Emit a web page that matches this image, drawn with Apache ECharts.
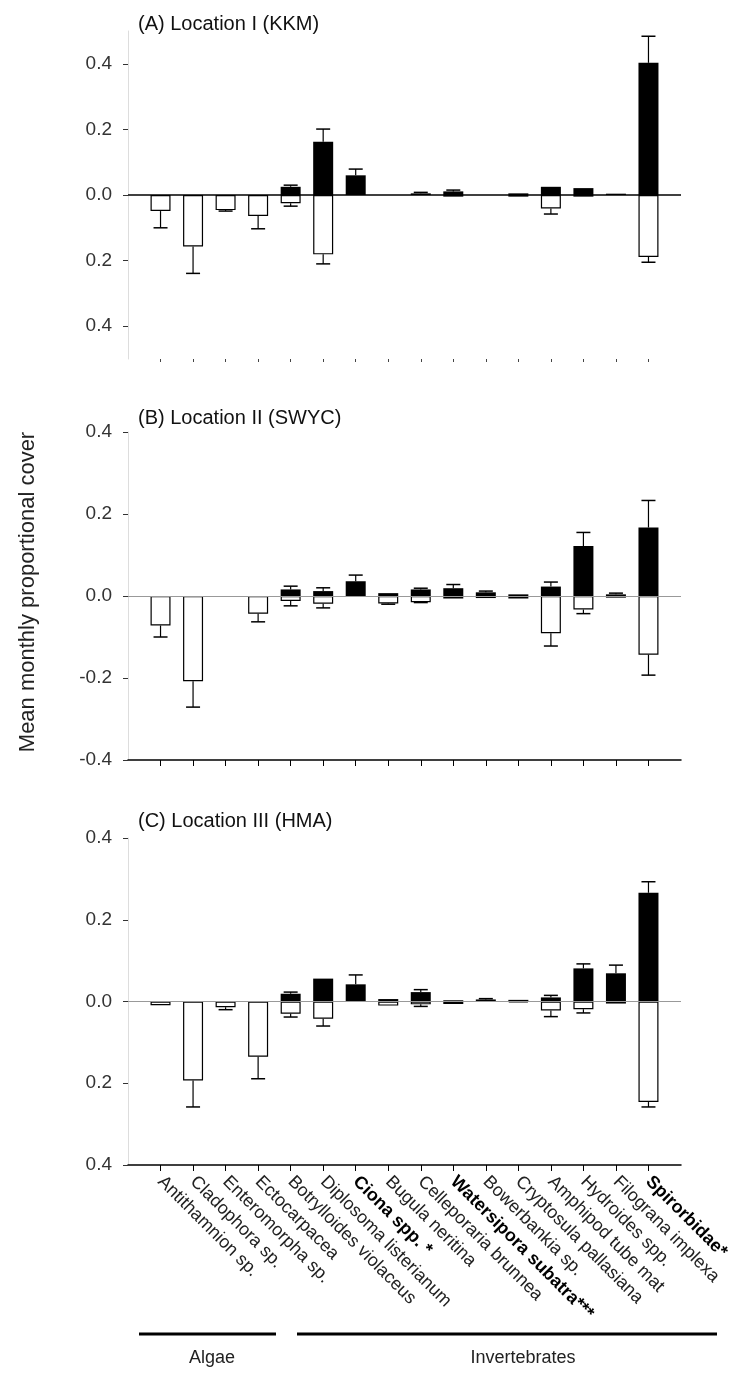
<!DOCTYPE html>
<html>
<head>
<meta charset="utf-8">
<script src="https://cdn.jsdelivr.net/npm/echarts@6/dist/echarts.min.js"></script>
<style>
html,body{margin:0;padding:0;background:#fff;}
#chart{width:738px;height:1373px;}
</style>
</head>
<body>
<div id="chart"></div>
<script>
// categories (same for all three locations)
const categories = ['Antithamnion sp.', 'Cladophora sp.', 'Enteromorpha sp.', 'Ectocarpacea',
  'Botrylloides violaceus', 'Diplosoma listerianum', 'Ciona spp. *', 'Bugula neritina',
  'Celleporaria brunnea', 'Watersipora subatra***', 'Bowerbankia sp.', 'Cryptosula pallasiana',
  'Amphipod tube mat', 'Hydroides spp.', 'Filograna implexa', 'Spirorbidae*'];
const boldCats = ['Ciona spp. *', 'Watersipora subatra***', 'Spirorbidae*'];
const panelTitles = ['(A) Location I (KKM)', '(B) Location II (SWYC)', '(C) Location III (HMA)'];
const yTickValues = [-0.4, -0.2, 0, 0.2, 0.4];

// (A) Location I
const posA    = [0, 0, 0, 0, 0.025, 0.162, 0.06, 0, 0.005, 0.011, 0, 0.005, 0.025, 0.021, 0.004, 0.403];
const posErrA = [0, 0, 0, 0, 0.005, 0.039, 0.019, 0, 0.003, 0.004, 0, 0, 0, 0, 0, 0.081];
const negA    = [-0.049, -0.157, -0.046, -0.064, -0.025, -0.181, 0, 0, 0, -0.005, 0, -0.005, -0.041, -0.005, 0, -0.189];
const negErrA = [0.051, 0.082, 0.003, 0.039, 0.009, 0.029, 0, 0, 0, 0, 0, 0, 0.017, 0, 0, 0.016];

// (B) Location II
const posB    = [0, 0, 0, 0, 0.016, 0.012, 0.036, 0.007, 0.016, 0.019, 0.009, 0.004, 0.023, 0.122, 0.004, 0.167];
const posErrB = [0, 0, 0, 0, 0.008, 0.008, 0.015, 0, 0.003, 0.009, 0.003, 0, 0.011, 0.033, 0.003, 0.066];
const negB    = [-0.072, -0.208, 0, -0.043, -0.012, -0.019, 0, -0.018, -0.015, -0.006, -0.005, -0.006, -0.091, -0.033, -0.004, -0.143];
const negErrB = [0.028, 0.063, 0, 0.02, 0.012, 0.01, 0, 0.002, 0.001, 0, 0, 0, 0.031, 0.01, 0, 0.05];

// (C) Location III
const posC    = [0, 0, 0, 0, 0.019, 0.056, 0.042, 0.006, 0.023, 0.003, 0.005, 0.004, 0.01, 0.081, 0.069, 0.266];
const posErrC = [0, 0, 0, 0, 0.004, 0, 0.023, 0, 0.006, 0, 0.002, 0, 0.005, 0.011, 0.02, 0.027];
const negC    = [-0.009, -0.193, -0.014, -0.135, -0.03, -0.042, 0, -0.01, -0.007, -0.006, 0, -0.002, -0.022, -0.019, -0.005, -0.246];
const negErrC = [0, 0.065, 0.006, 0.054, 0.008, 0.018, 0, 0, 0.005, 0, 0, 0, 0.015, 0.009, 0, 0.012];

const FONT = "'Liberation Sans', Arial, sans-serif";
// one empty slot each side of the 16 bars
const xCats = [''].concat(categories, ['']);

const chart = echarts.init(document.getElementById('chart'));

function barData(vals) {
  const out = [];
  vals.forEach((v, i) => { if (v !== 0) out.push([i + 1, v]); });
  return out;
}
function errData(vals, errs) {
  const out = [];
  vals.forEach((v, i) => { if (errs[i] > 0) out.push([i + 1, v, errs[i]]); });
  return out;
}
function errRender(dir) {
  return function (params, api) {
    const i = api.value(0), v = api.value(1), e = api.value(2);
    const p0 = api.coord([i, v]);
    const p1 = api.coord([i, v + dir * e]);
    return {
      type: 'group',
      children: [
        {type: 'line', shape: {x1: p0[0], y1: p0[1], x2: p1[0], y2: p1[1]}, style: {stroke: '#000', lineWidth: 1.2}},
        {type: 'line', shape: {x1: p1[0] - 7, y1: p1[1], x2: p1[0] + 7, y2: p1[1]}, style: {stroke: '#000', lineWidth: 1.5}}
      ]
    };
  };
}

const grids = [
  {left: 128, right: 57, top: 31, height: 328},
  {left: 128, right: 57, top: 432, height: 328},
  {left: 128, right: 57, top: 838, height: 327}
];
const yRanges = [[-0.5, 0.5], [-0.4, 0.4], [-0.4, 0.4]];
const panels = [[posA, posErrA, negA, negErrA], [posB, posErrB, negB, negErrB], [posC, posErrC, negC, negErrC]];

const xAxes = [], yAxes = [], series = [];
panels.forEach((p, k) => {
  const last = k === 2;
  xAxes.push({
    type: 'category', gridIndex: k, data: xCats, boundaryGap: false,
    axisLine: {show: k > 0, onZero: false, lineStyle: {color: '#000', width: 1.5}},
    axisTick: {
      show: true, length: k > 0 ? 6 : 3,
      interval: (idx, v) => v !== '',
      lineStyle: {color: k > 0 ? '#000' : '#444', width: 1}
    },
    axisLabel: {
      show: last, rotate: -45, margin: 14, interval: (idx, v) => v !== '',
      fontFamily: FONT, fontSize: 18, color: '#222',
      formatter: v => boldCats.indexOf(v) >= 0 ? '{b|' + v + '}' : v,
      rich: {b: {fontFamily: FONT, fontSize: 18, fontWeight: 'bold', color: '#000'}}
    },
    splitLine: {show: false}
  });
  yAxes.push({
    type: 'value', gridIndex: k, min: yRanges[k][0], max: yRanges[k][1],
    axisLine: {show: true, lineStyle: {color: '#ddd', width: 1}},
    axisTick: {show: true, length: 5, customValues: yTickValues, lineStyle: {color: '#333'}},
    axisLabel: {
      customValues: yTickValues, margin: 16, fontFamily: FONT, fontSize: 19, color: '#333',
      formatter: v => (k === 1 ? v : Math.abs(v)).toFixed(1)
    },
    splitLine: {show: false}
  });
  series.push({
    type: 'bar', xAxisIndex: k, yAxisIndex: k, barWidth: 20, barGap: '-100%',
    data: barData(p[2]),
    itemStyle: {color: '#fff', borderColor: '#000', borderWidth: 1.2},
    markLine: {
      silent: true, symbol: 'none', label: {show: false},
      lineStyle: {type: 'solid', color: k === 0 ? '#000' : '#999', width: k === 0 ? 1.5 : 1.2},
      data: [{yAxis: 0}]
    },
    z: 2
  });
  series.push({
    type: 'bar', xAxisIndex: k, yAxisIndex: k, barWidth: 20, barGap: '-100%',
    data: barData(p[0]),
    itemStyle: {color: '#000'},
    z: 3
  });
  series.push({
    type: 'custom', xAxisIndex: k, yAxisIndex: k, renderItem: errRender(1),
    data: errData(p[0], p[1]), encode: {x: 0, y: 1}, z: 4
  });
  series.push({
    type: 'custom', xAxisIndex: k, yAxisIndex: k, renderItem: errRender(-1),
    data: errData(p[2], p[3]), encode: {x: 0, y: 1}, z: 4
  });
});

const titleTops = [9, 403, 806];

chart.setOption({
  animation: false,
  backgroundColor: '#fff',
  grid: grids,
  xAxis: xAxes,
  yAxis: yAxes,
  series: series,
  title: panelTitles.map((t, k) => ({
    text: t, left: 133, top: titleTops[k],
    textStyle: {fontFamily: FONT, fontSize: 20, fontWeight: 'normal', color: '#111'}
  })),
  graphic: [
    {type: 'text', x: 28, y: 592, rotation: Math.PI / 2, style: {
      text: 'Mean monthly proportional cover', font: '22px ' + FONT, fill: '#222',
      align: 'center', verticalAlign: 'middle'}},
    {type: 'line', shape: {x1: 139, y1: 1334, x2: 276, y2: 1334}, style: {stroke: '#000', lineWidth: 3}},
    {type: 'line', shape: {x1: 297, y1: 1334, x2: 717, y2: 1334}, style: {stroke: '#000', lineWidth: 3}},
    {type: 'text', x: 212, y: 1358, style: {text: 'Algae', font: '18px ' + FONT, fill: '#222', align: 'center', verticalAlign: 'middle'}},
    {type: 'text', x: 523, y: 1358, style: {text: 'Invertebrates', font: '18px ' + FONT, fill: '#222', align: 'center', verticalAlign: 'middle'}}
  ]
});
</script>
</body>
</html>
